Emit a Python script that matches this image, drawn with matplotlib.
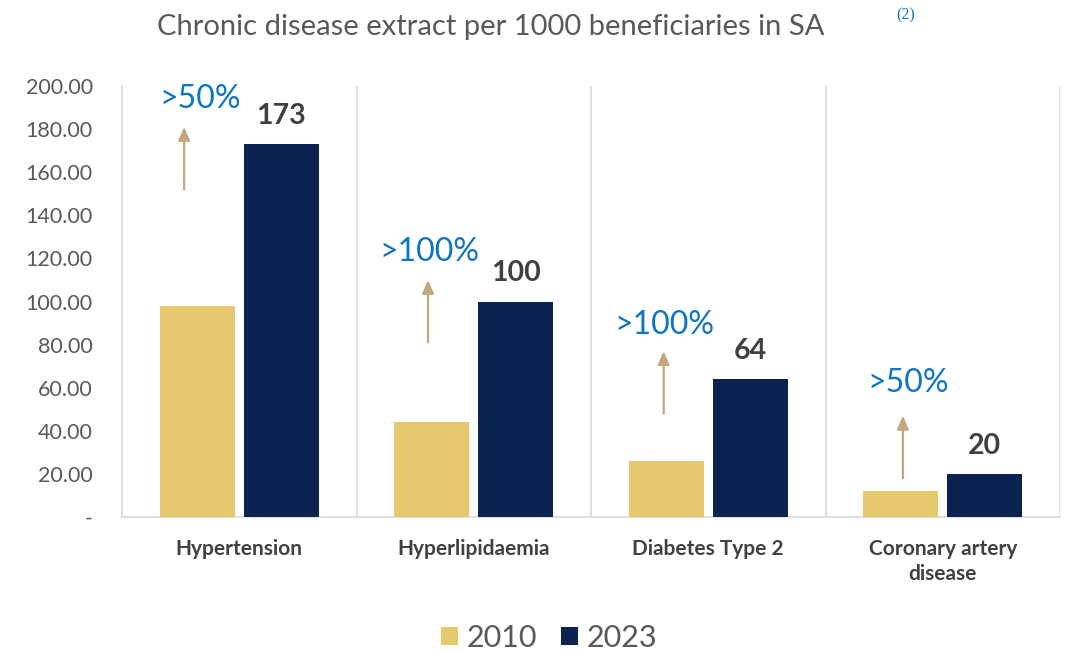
import matplotlib
matplotlib.use("Agg")
import matplotlib.pyplot as plt
import numpy as np

categories = ["Hypertension", "Hyperlipidaemia", "Diabetes Type 2", "Coronary artery\ndisease"]
years = ["2010", "2023"]
values_2010 = [98, 44, 26, 12]
values_2023 = [173, 100, 64, 20]
value_labels = ["173", "100", "64", "20"]
growth_labels = [">50%", ">100%", ">100%", ">50%"]
arrow_x = [-0.235, -0.195, -0.19, -0.17]
arrow_bottom = [152, 81, 48, 18]
arrow_top = [181, 110, 77, 47]
growth_text_x = [-0.168, -0.188, -0.186, -0.149]
growth_text_y = [194, 123, 89, 62]
yticks = [0, 20, 40, 60, 80, 100, 120, 140, 160, 180, 200]
ytick_labels = ["-"] + [f"{v:.2f}" for v in yticks[1:]]

c2010 = "#E6C86E"
c2023 = "#0C2350"
arrow_c = "#C4A77D"
blue = "#0E74C4"
dark = "#404040"
grey = "#595959"

plt.rcParams['font.family'] = ['Lato', 'DejaVu Sans']

fig = plt.figure(figsize=(10.71, 6.52), dpi=100)
ax = fig.add_axes([122/1071, 135/652, 938/1071, 431/652])

x = np.arange(len(categories))
w = 0.32
off = 0.179
ax.bar(x - off, values_2010, width=w, color=c2010, label=years[0], zorder=3)
ax.bar(x + off, values_2023, width=w, color=c2023, label=years[1], zorder=3)

for i in range(len(categories)):
    ax.text(x[i] + off, values_2023[i] + 7, value_labels[i], ha="center", va="bottom",
            fontsize=20.5, fontweight="bold", color=dark)
    ax.annotate("", xy=(x[i] + arrow_x[i], arrow_top[i]), xytext=(x[i] + arrow_x[i], arrow_bottom[i]),
                arrowprops=dict(arrowstyle="-|>,head_width=0.35,head_length=0.8", color=arrow_c, lw=1.6,
                                shrinkA=0, shrinkB=0))
    ax.text(x[i] + growth_text_x[i], growth_text_y[i], growth_labels[i], ha="center", va="center",
            fontsize=23, color=blue)

ax.set_xlim(-0.5, 3.5)
ax.set_ylim(0, 200)
for b in [0.5, 1.5, 2.5, 3.5]:
    ax.axvline(b, color="#D9D9D9", lw=1.2, zorder=1)

for s in ["top", "right"]:
    ax.spines[s].set_visible(False)
for s in ["left", "bottom"]:
    ax.spines[s].set_color("#D9D9D9")
    ax.spines[s].set_linewidth(1.2)

ax.set_yticks(yticks)
ax.set_yticklabels(ytick_labels, fontsize=15.5, color=grey)
ax.tick_params(axis="y", length=0, pad=21)
ax.set_xticks(x)
ax.set_xticklabels(categories, fontsize=15, fontweight="bold", color=dark, linespacing=1.3)
ax.tick_params(axis="x", length=0, pad=16)

fig.text(491/1071, 1 - 27/652, "Chronic disease extract per 1000 beneficiaries in SA",
         ha="center", va="center", fontsize=21, color=grey)
fig.text(906/1071, 1 - 15/652, "(2)", ha="center", va="center", fontsize=11.5, color=blue,
         family=["Liberation Serif", "DejaVu Serif"])

leg = fig.legend(loc="center", bbox_to_anchor=(549/1071, 1 - 638/652), ncol=2, frameon=False,
                 fontsize=22, handlelength=0.55, handleheight=0.55, handletextpad=0.28,
                 columnspacing=0.8, labelcolor=grey)

fig.savefig("out.png", dpi=100)
